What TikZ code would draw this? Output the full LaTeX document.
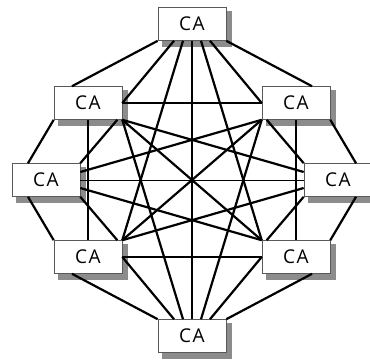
\documentclass[tikz,border=0pt]{standalone}
\usepackage{fontspec}
\setmainfont{Open Sans}
\usetikzlibrary{calc}
\begin{document}
\begin{tikzpicture}[x=1pt,y=-1pt,
  ca/.style={draw=black!65, line width=0.6pt, fill=white, minimum width=68pt, minimum height=33pt, inner sep=0pt,
    font=\fontsize{19}{19}\selectfont\addfontfeatures{LetterSpace=8}},
  shadowfill/.style={fill=black!45},
  link/.style={line width=2.2pt},
  thinlink/.style={line width=1pt}]
\useasboundingbox (0,0) rectangle (370,360);
% nodes
\node[ca] (T)  at (192,24)  {CA};
\node[ca] (UL) at (88,103)  {CA};
\node[ca] (UR) at (296,103) {CA};
\node[ca] (L)  at (46,180)  {CA};
\node[ca] (R)  at (338,180) {CA};
\node[ca] (LL) at (88,257)  {CA};
\node[ca] (LR) at (296,257) {CA};
\node[ca] (B)  at (192,336) {CA};
% shadows (right and bottom strips)
\foreach \n in {T,UL,UR,L,R,LL,LR,B}{
  \fill[shadowfill] ([shift={(0.4pt,-4pt)}]\n.north east) rectangle ([shift={(6pt,-6pt)}]\n.south east);
  \fill[shadowfill] ([shift={(4pt,-0.4pt)}]\n.south west) rectangle ([shift={(6pt,-6pt)}]\n.south east);
}
% attachment points
\coordinate (Tw)  at (T.south west);
\coordinate (Tul) at ($(T.south)+(-18pt,0)$);
\coordinate (Tll) at ($(T.south)+(-9pt,0)$);
\coordinate (Tb)  at (T.south);
\coordinate (Tlr) at ($(T.south)+(9pt,0)$);
\coordinate (Tur) at ($(T.south)+(18pt,0)$);
\coordinate (Te)  at (T.south east);
\coordinate (ULt)  at ($(UL.north)+(-16pt,0)$);
\coordinate (ULe)  at (UL.east);
\coordinate (ULsw) at (UL.south west);
\coordinate (ULli) at ($(UL.south east)+(-5pt,0)$);
\coordinate (ULs)  at (UL.south);
\coordinate (ULse) at (UL.south east);
\coordinate (URt)  at ($(UR.north)+(16pt,0)$);
\coordinate (URw)  at (UR.west);
\coordinate (URse) at (UR.south east);
\coordinate (URri) at ($(UR.south west)+(5pt,0)$);
\coordinate (URs)  at (UR.south);
\coordinate (URsw) at (UR.south west);
\coordinate (Lo1) at ($(L.north)+(-18pt,0)$);
\coordinate (Lne) at (L.north east);
\coordinate (Lur) at ($(L.east)+(0,8pt)$);
\coordinate (Le)  at (L.east);
\coordinate (Llr) at ($(L.east)+(0,-8pt)$);
\coordinate (Lse) at (L.south east);
\coordinate (Lo2) at ($(L.south)+(-18pt,0)$);
\coordinate (Ro1) at ($(R.north)+(18pt,0)$);
\coordinate (Rnw) at (R.north west);
\coordinate (Rul) at ($(R.west)+(0,8pt)$);
\coordinate (Rw)  at (R.west);
\coordinate (Rll) at ($(R.west)+(0,-8pt)$);
\coordinate (Rsw) at (R.south west);
\coordinate (Ro2) at ($(R.south)+(18pt,0)$);
\coordinate (LLb)  at ($(LL.south)+(-16pt,0)$);
\coordinate (LLe)  at (LL.east);
\coordinate (LLnw) at (LL.north west);
\coordinate (LLli) at ($(LL.north east)+(-5pt,0)$);
\coordinate (LLn)  at (LL.north);
\coordinate (LLne) at (LL.north east);
\coordinate (LRb)  at ($(LR.south)+(16pt,0)$);
\coordinate (LRw)  at (LR.west);
\coordinate (LRne) at (LR.north east);
\coordinate (LRri) at ($(LR.north west)+(5pt,0)$);
\coordinate (LRn)  at (LR.north);
\coordinate (LRnw) at (LR.north west);
\coordinate (Bw)  at (B.north west);
\coordinate (Bll) at ($(B.north)+(-18pt,0)$);
\coordinate (Bul) at ($(B.north)+(-9pt,0)$);
\coordinate (Bt)  at (B.north);
\coordinate (Bur) at ($(B.north)+(9pt,0)$);
\coordinate (Blr) at ($(B.north)+(18pt,0)$);
\coordinate (Be)  at (B.north east);
% outer octagon
\draw[link] (Tw) -- (ULt);
\draw[link] (Te) -- (URt);
\draw[link] (ULsw) -- (Lo1);
\draw[link] (URse) -- (Ro1);
\draw[link] (Lo2) -- (LLnw);
\draw[link] (Ro2) -- (LRne);
\draw[link] (LLb) -- (Bw);
\draw[link] (LRb) -- (Be);
% inner adjacent
\draw[link] (Tul) -- (ULe);
\draw[link] (Tur) -- (URw);
\draw[link] (ULli) -- (Lne);
\draw[link] (URri) -- (Rnw);
\draw[link] (Lse) -- (LLli);
\draw[link] (Rsw) -- (LRri);
\draw[link] (LLe) -- (Bll);
\draw[link] (LRw) -- (Blr);
% mesh
\draw[link] (Tll) -- (LLne);
\draw[link] (Tb) -- (Bt);
\draw[link] (Tlr) -- (LRnw);
\draw[link] (ULe) -- (URw);
\draw[link] (ULs) -- (LLn);
\draw[link] (ULse) -- (Bul);
\draw[link] (ULse) -- (LRnw);
\draw[link] (ULse) -- (Rul);
\draw[link] (URs) -- (LRn);
\draw[link] (URsw) -- (Bur);
\draw[link] (URsw) -- (LLne);
\draw[link] (URsw) -- (Lur);
\draw[thinlink] (Le) -- (Rw);
\draw[link] (Llr) -- (LRnw);
\draw[link] (Rll) -- (LLne);
\draw[link] (LLe) -- (LRw);
\end{tikzpicture}
\end{document}
